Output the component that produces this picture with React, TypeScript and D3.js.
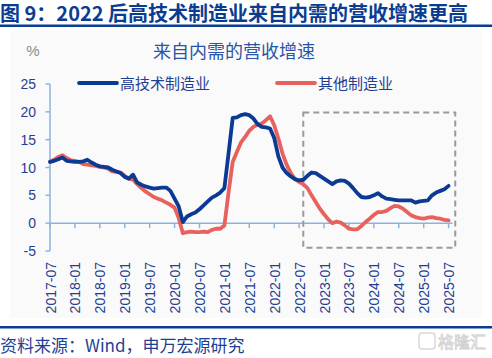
import React from "react";
import * as d3 from "d3";

const title = "图 9：2022 后高技术制造业来自内需的营收增速更高";
const subtitle = "来自内需的营收增速";
const unitLabel = "%";
const source = "资料来源：Wind，申万宏源研究";
const seriesNames = ["高技术制造业", "其他制造业"];
const startMonth = "2017-07";

const hiTech = [
  11.0, 11.2, 11.5, 11.8, 11.2, 11.1, 11.0, 11.0, 11.1, 11.4, 10.9, 10.5,
  10.2, 10.1, 10.0, 9.6, 9.3, 9.0, 8.3, 8.0, 8.7, 7.3, 6.9, 6.6,
  6.4, 6.2, 6.3, 6.4, 6.4, 5.8, 4.4, 3.0, 0.2, 1.2, 1.6, 1.9,
  2.5, 3.2, 3.9, 4.6, 5.0, 5.5, 6.3, 12.5, 18.9, 19.0, 19.4, 19.6,
  19.4, 18.8, 17.8, 17.3, 17.2, 17.0, 15.3, 12.0, 10.0, 9.0, 8.4, 7.9,
  7.7, 7.8, 8.5, 9.1, 9.0, 8.5, 8.0, 7.5, 7.0, 7.5, 7.7, 7.6,
  7.1, 6.3, 5.4, 4.7, 4.6, 4.7, 5.0, 5.4, 4.8, 4.4, 4.3, 4.2,
  4.1, 4.1, 4.1, 4.1, 3.7, 3.9, 4.0, 4.1, 5.0, 5.5, 5.8, 6.1,
  6.7,
];

const others = [
  11.0, 11.4, 11.9, 12.2, 11.7, 11.3, 11.2, 11.0, 10.6, 10.5, 10.4, 10.3,
  10.1, 10.0, 9.8, 9.3, 9.2, 9.1, 8.5, 8.0, 7.8, 7.0, 6.3, 5.7,
  5.2, 4.7, 4.4, 4.1, 3.7, 3.3, 2.8, 0.9, -1.8, -1.6, -1.5, -1.6,
  -1.6, -1.5, -1.6, -1.2, -1.0, -1.0, -0.4, 5.5, 11.0, 12.8, 14.5, 15.5,
  16.6, 17.3, 17.7, 17.9, 18.5, 19.2, 17.6, 15.2, 12.5, 10.5, 9.0, 7.9,
  7.4, 7.0, 6.3, 5.0, 3.8, 2.6, 1.6, 0.7, 0.0, 0.3, 0.1, -0.4,
  -1.0, -1.1, -1.1, -0.5, 0.2, 0.8, 1.5, 2.0, 2.0, 2.2, 2.7, 3.1,
  3.0, 2.6, 2.0, 1.4, 1.1, 0.9, 0.8, 1.0, 1.1, 0.9, 0.8, 0.6,
  0.5,
];

const xTickLabels = [
  "2017-07", "2018-01", "2018-07", "2019-01", "2019-07", "2020-01",
  "2020-07", "2021-01", "2021-07", "2022-01", "2022-07", "2023-01",
  "2023-07", "2024-01", "2024-07", "2025-01", "2025-07",
];
const yTicks = [25, 20, 15, 10, 5, 0, -5];

// highlight box in data units: month index range, value range
const boxMonths = [61, 97.6];
const boxValues = [19.9, -4.4];

const BLUE = "#0B3A94";
const RED = "#E8625D";
const NAVY = "#0A3D91";
const TEXT_BLUE = "#1F3F94";
const AXIS = "#8CB3E0";
const FONT = "'Liberation Sans', 'Noto Sans CJK SC', sans-serif";
const CJK = "'Noto Sans CJK SC', sans-serif";

function monthIndex(label: string) {
  const [y0, m0] = startMonth.split("-").map(Number);
  const [y, m] = label.split("-").map(Number);
  return (y - y0) * 12 + (m - m0);
}

export default function App() {
  const W = 492;
  const H = 358;
  const x = d3.scaleLinear().domain([0, 96]).range([50, 448.6]);
  const y = d3.scaleLinear().domain([-5, 25]).range([251, 84]);
  const line = d3
    .line<number>()
    .x((_, i) => x(i))
    .y((d) => y(d));

  const legendItems = [
    { name: seriesNames[0], color: BLUE, x0: 79 },
    { name: seriesNames[1], color: RED, x0: 277 },
  ];

  return (
    <svg
      width={W}
      height={H}
      style={{ position: "absolute", left: 0, top: 0, background: "#fff" }}
      fontFamily={FONT}
    >
      <rect x={10} y={30} width={472} height={288} fill="#FAFAFA" />
      <text x={0} y={21} fontFamily={CJK} fontWeight={700} fontSize={20} fill={NAVY}>
        {title}
      </text>
      <rect x={0} y={24.5} width={W} height={2.5} fill={NAVY} />

      <text x={33} y={56} textAnchor="middle" fontSize={15} fill="#8a8a8a">
        {unitLabel}
      </text>
      <text x={234} y={57.5} textAnchor="middle" fontFamily={CJK} fontSize={18} fill="#2B54A6">
        {subtitle}
      </text>

      {legendItems.map((l) => (
        <g key={l.name}>
          <line x1={l.x0} x2={l.x0 + 38} y1={83} y2={83} stroke={l.color} strokeWidth={3.8} strokeLinecap="round" />
          <text x={l.x0 + 41} y={88.5} fontFamily={CJK} fontSize={15} fill={TEXT_BLUE}>
            {l.name}
          </text>
        </g>
      ))}

      {/* y axis */}
      <line x1={50} x2={50} y1={y(25)} y2={y(-5)} stroke={AXIS} strokeWidth={1.5} />
      {yTicks.map((t) => (
        <g key={t}>
          <line x1={45.5} x2={50} y1={y(t)} y2={y(t)} stroke={AXIS} strokeWidth={1.5} />
          <text x={36} y={y(t)} dy="0.36em" textAnchor="end" fontSize={14} fill={TEXT_BLUE}>
            {t}
          </text>
        </g>
      ))}

      {/* x axis at zero */}
      <line x1={x(0)} x2={x(96) + 4} y1={y(0)} y2={y(0)} stroke={AXIS} strokeWidth={1.5} />
      {xTickLabels.map((lab) => {
        const xi = x(monthIndex(lab));
        return (
          <g key={lab}>
            <line x1={xi} x2={xi} y1={y(0)} y2={y(0) + 5} stroke={AXIS} strokeWidth={1.5} />
            <text
              transform={`translate(${xi + 5.5},262) rotate(-90)`}
              textAnchor="end"
              fontSize={14}
              fill={TEXT_BLUE}
            >
              {lab}
            </text>
          </g>
        );
      })}

      {/* highlight box */}
      <rect
        x={x(boxMonths[0])}
        y={y(boxValues[0])}
        width={x(boxMonths[1]) - x(boxMonths[0])}
        height={y(boxValues[1]) - y(boxValues[0])}
        fill="none"
        stroke="#9a9a9a"
        strokeWidth={2}
        strokeDasharray="6,4"
      />

      <path d={line(others) || ""} fill="none" stroke={RED} strokeWidth={3.8} strokeLinejoin="round" strokeLinecap="round" />
      <path d={line(hiTech) || ""} fill="none" stroke={BLUE} strokeWidth={3.8} strokeLinejoin="round" strokeLinecap="round" />

      <rect x={0} y={326} width={W} height={2.5} fill={NAVY} />
      <text x={0} y={352} fontFamily={CJK} fontSize={17} fill={TEXT_BLUE}>
        {source}
      </text>
      <g opacity={0.55}>
        <rect x={419} y={333} width={16} height={16} rx={3} fill="none" stroke="#bbb" strokeWidth={1.5} />
        <text x={438} y={348} fontFamily={CJK} fontSize={16} fill="#fff" stroke="#aaa" strokeWidth={0.8}>
          格隆汇
        </text>
      </g>
    </svg>
  );
}
